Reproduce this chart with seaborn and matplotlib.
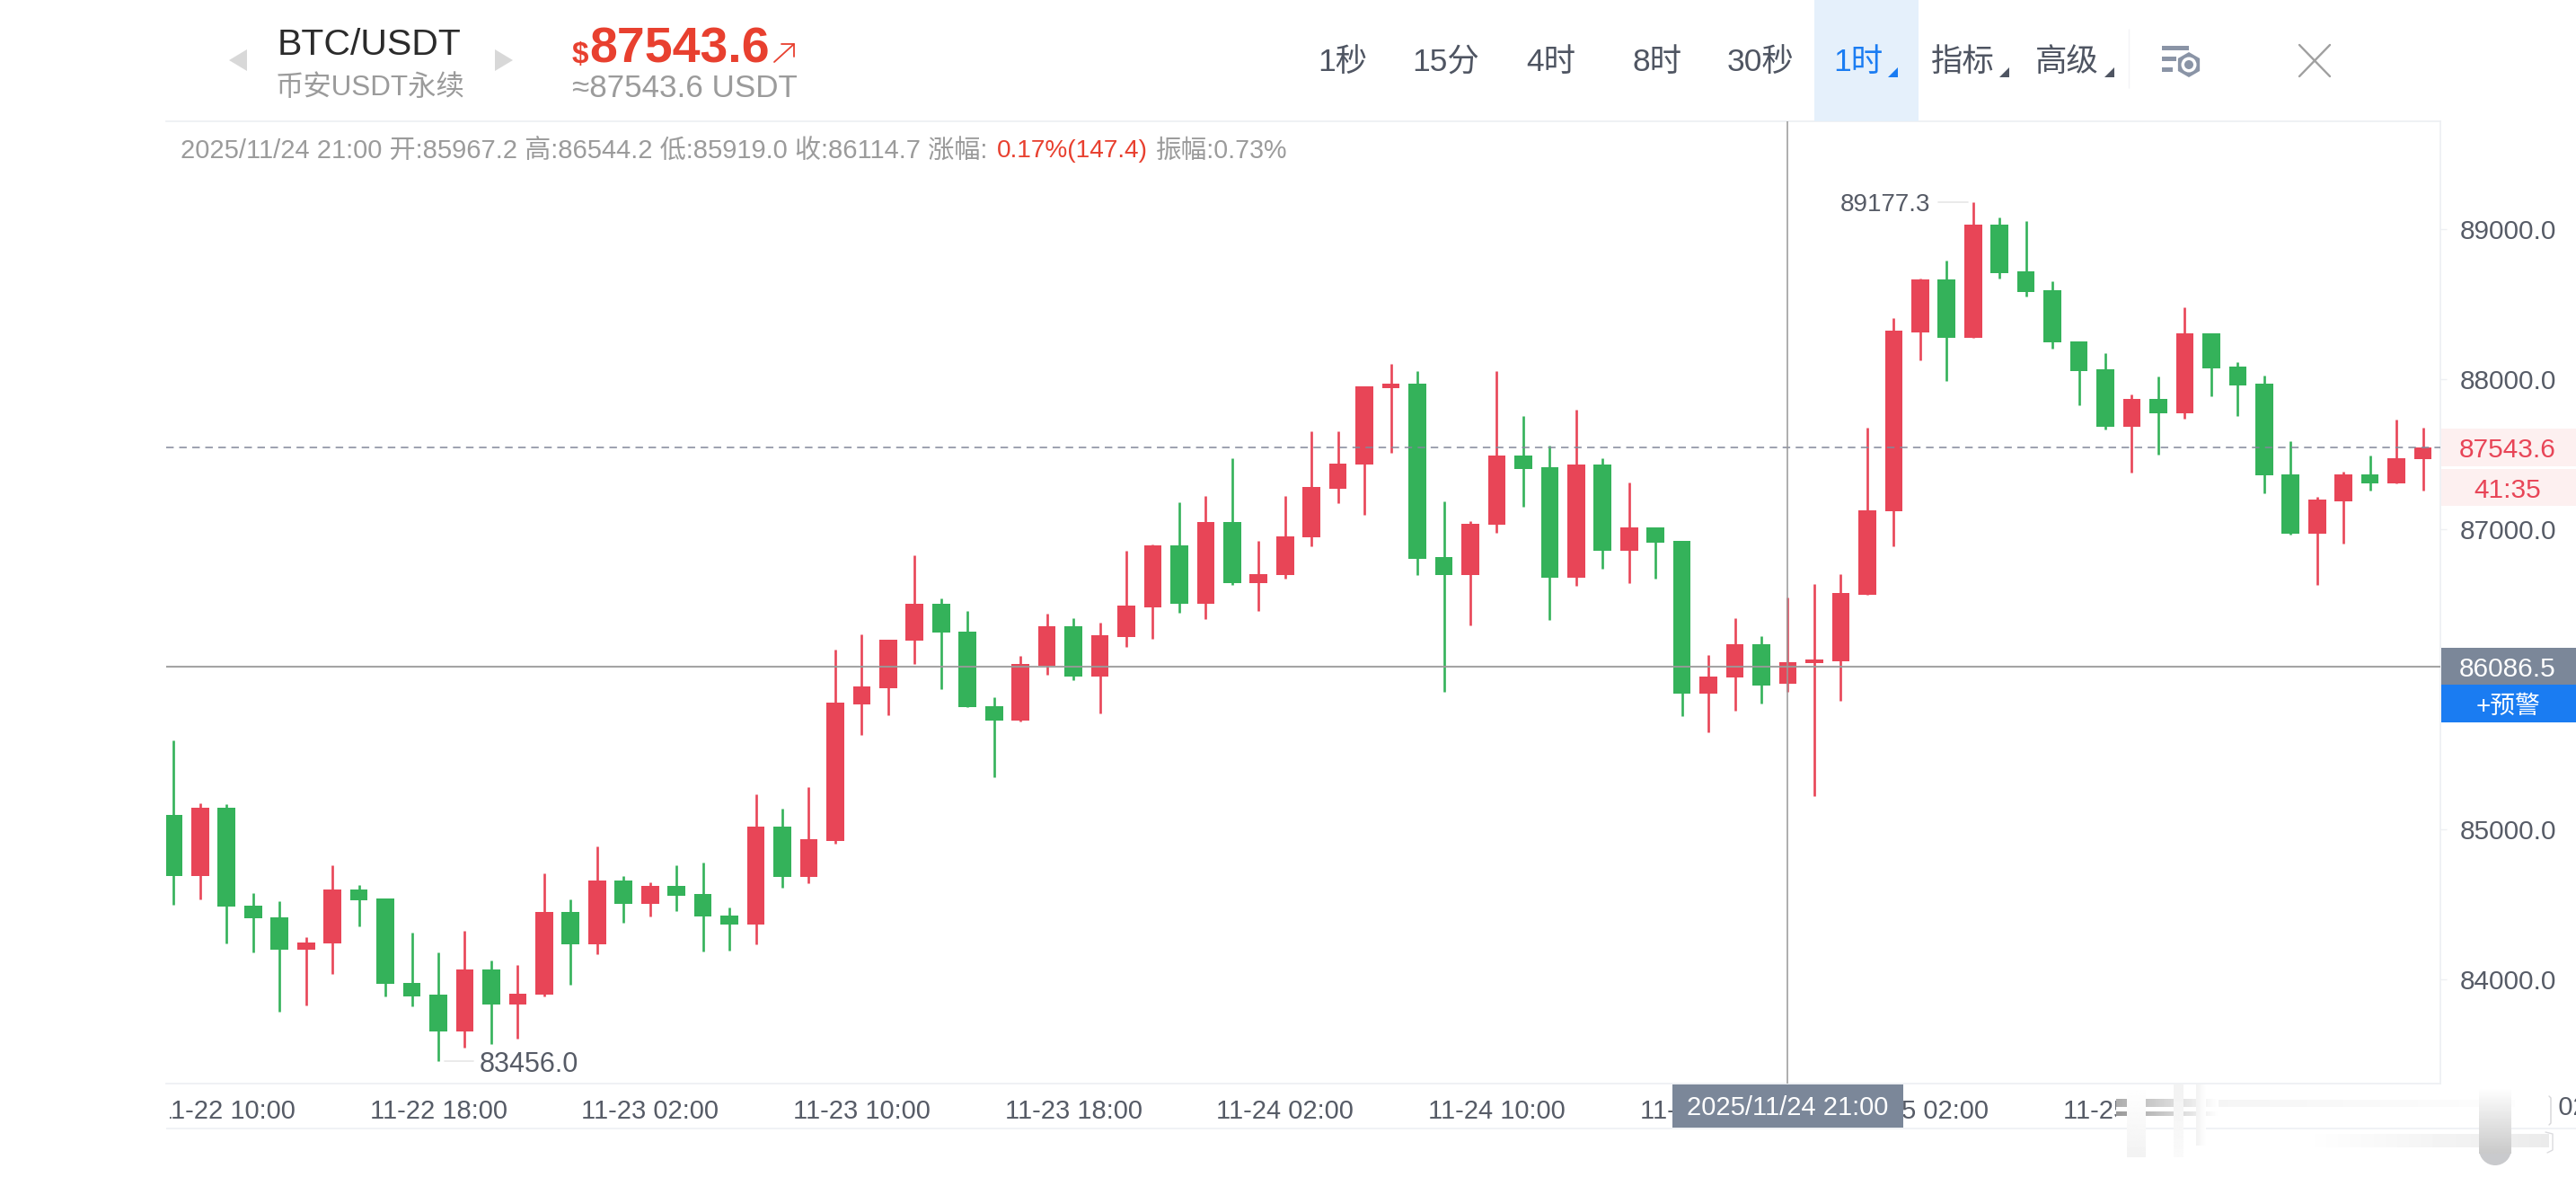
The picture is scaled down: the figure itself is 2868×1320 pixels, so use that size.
import numpy as np
import pandas as pd
import seaborn as sns
import matplotlib.pyplot as plt
from matplotlib.patches import Rectangle, Polygon, RegularPolygon, Circle

# 1h candles. red = close above open, green = close below
OPEN = [85094, 84686, 85143, 84490, 84414, 84197, 84241, 84598, 84536, 83977,
        83896, 83654, 84065, 83835, 83896, 84451, 84231, 84659, 84505, 84624,
        84566, 84426, 84363, 85020, 84683, 84920, 85830, 85942, 86255, 86501,
        86317, 85822, 85725, 86092, 86351, 86018, 86283, 86479, 86892, 86505,
        87048, 86643, 86695, 86946, 87271, 87431, 87940, 87970, 86812, 86697,
        87028, 87489, 87413, 86677, 87431, 86856, 87010, 86922, 85906, 86010,
        86236, 85967.2, 86108, 86120, 86565, 87118, 88311, 88667, 88273, 89028,
        88720, 88591, 88253, 88064, 87681, 87870, 87770, 88305, 88084, 87970,
        87367, 86972, 87188, 87363, 87307, 87465]
HIGH = [85595, 85174, 85167, 84573, 84519, 84282, 84759, 84629, 84541, 84309,
        84182, 84321, 84126, 84094, 84708, 84532, 84884, 84686, 84644, 84759,
        84776, 84478, 85231, 85135, 85283, 86198, 86297, 86263, 86824, 86537,
        86455, 85878, 86156, 86435, 86405, 86377, 86854, 86898, 87178, 87220,
        87471, 86920, 87220, 87653, 87653, 87950, 88102, 88052, 87188, 87052,
        88052, 87756, 87555, 87796, 87475, 87309, 87010, 86922, 86162, 86405,
        86285, 86544.2, 86633, 86699, 87679, 88405, 88671, 88790, 89177.3, 89078,
        89056, 88651, 88253, 88172, 87900, 88016, 88477, 88305, 88112, 88022,
        87587, 87218, 87383, 87489, 87733, 87677]
LOW = [84500, 84534, 84241, 84177, 83786, 83828, 84036, 84351, 83889, 83818,
       83456, 83547, 83571, 83603, 83889, 83965, 84170, 84380, 84422, 84458,
       84187, 84189, 84231, 84612, 84640, 84906, 85627, 85763, 86104, 85932,
       85812, 85345, 85720, 86032, 85996, 85774, 86218, 86269, 86443, 86403,
       86631, 86457, 86673, 86886, 87176, 87098, 87511, 86697, 85914, 86361,
       86978, 87152, 86397, 86625, 86735, 86643, 86673, 85756, 85649, 85792,
       85836, 85919.0, 85224, 85858, 86565, 86888, 88128, 87988, 88273, 88673,
       88551, 88206, 87826, 87667, 87379, 87499, 87738, 87884, 87756, 87242,
       86962, 86627, 86902, 87258, 87307, 87258]
CLOSE = [84686, 85143, 84485, 84407, 84197, 84248, 84598, 84529, 83969, 83889,
         83654, 84065, 83835, 83906, 84451, 84231, 84659, 84505, 84624, 84556,
         84419, 84363, 85020, 84681, 84934, 85842, 85950, 86263, 86501, 86309,
         85812, 85725, 86102, 86351, 86018, 86293, 86489, 86892, 86505, 87048,
         86643, 86703, 86954, 87279, 87439, 87950, 87970, 86802, 86697, 87038,
         87489, 87403, 86677, 87431, 86856, 87010, 86910, 85906, 86020, 86236,
         85960, 86114.7, 86130, 86575, 87128, 88321, 88667, 88273, 89028, 88709,
         88581, 88244, 88054, 87681, 87870, 87770, 88305, 88074, 87958, 87357,
         86972, 87200, 87363, 87307, 87475, 87543.6]

X_TICK_IDX = [2, 10, 18, 26, 34, 42, 50, 58, 66, 74, 82]
X_TICK_LABELS = ['11-22 10:00', '11-22 18:00', '11-23 02:00', '11-23 10:00',
                 '11-23 18:00', '11-24 02:00', '11-24 10:00', '11-24 18:00',
                 '11-25 02:00', '11-25 10:00', '11-25 18:00']
Y_TICKS = [84000, 85000, 86000, 87000, 88000, 89000]
Y_TICK_LABELS = ['84000.0', '85000.0', '', '87000.0', '88000.0', '89000.0']

LAST_PRICE = 87543.6
CURSOR_PRICE = 86086.5
CURSOR_IDX = 61
MAX_PRICE = 89177.3
MIN_PRICE = 83456.0

RED = '#e84557'
GREEN = '#34b25a'
GRAY_TXT = '#9b9b9b'
DARK_TXT = '#565b66'
TAG_GRAY = '#7b8799'
BLUE = '#1a7cf2'
LINE = '#eef0f3'

sns.set_theme(style='white')
plt.rcParams['font.family'] = ['Liberation Sans', 'Noto Sans CJK SC', 'DejaVu Sans']

W, H = 2868, 1320
fig = plt.figure(figsize=(W / 100, H / 100), dpi=100, facecolor='white')

# main chart, placed by pixel edges of the plot area
left, right, top, bottom = 185, 2717, 135, 1206
ax = fig.add_axes([left / W, 1 - bottom / H, (right - left) / W, (bottom - top) / H])

df = pd.DataFrame({'idx': range(len(OPEN)), 'open': OPEN, 'high': HIGH, 'low': LOW, 'close': CLOSE})
df['dir'] = np.where(df['close'] >= df['open'], 'up', 'down')
df['body'] = (df['close'] - df['open']).abs()
df['body_low'] = df[['open', 'close']].min(axis=1)

# wicks
wicks = df.melt(id_vars=['idx', 'dir'], value_vars=['high', 'low'], value_name='price')
wicks = wicks.sort_values(['idx', 'variable'])
sns.lineplot(data=wicks, x='idx', y='price', units='idx', estimator=None, hue='dir',
             palette={'up': RED, 'down': GREEN}, linewidth=1.9, legend=False, sort=False,
             solid_capstyle='butt', zorder=2, ax=ax)

# bodies
for name, colour in [('up', RED), ('down', GREEN)]:
    sub = df[df['dir'] == name]
    sns.barplot(data=sub, x='idx', y='body', bottom=sub['body_low'].values, color=colour,
                saturation=1, width=0.667, native_scale=True, errorbar=None,
                linewidth=0, zorder=3, ax=ax)

ax.set_xlim(-0.285, 85.66)
ax.set_ylim(83305.4, 89718.6)
ax.set_xlabel('')
ax.set_ylabel('')

ax.axhline(LAST_PRICE, color='#82889a', lw=1.1, dashes=(5.5, 4), zorder=4)
ax.axhline(CURSOR_PRICE, color='#9a9a9a', lw=1.5, alpha=0.9, zorder=4)
ax.axvline(CURSOR_IDX, color='#9a9a9a', lw=1.4, alpha=0.8, zorder=4)

# high / low markers
hi = int(np.argmax(HIGH))
lo = int(np.argmin(LOW))
ax.plot([hi - 1.32, hi - 0.2], [MAX_PRICE, MAX_PRICE], color='#e6e6e6', lw=1.2, zorder=1)
ax.plot([lo + 0.25, lo + 1.32], [MIN_PRICE, MIN_PRICE], color='#e6e6e6', lw=1.2, zorder=1)
ax.annotate(f'{MAX_PRICE:.1f}', (hi - 1.6, MAX_PRICE), xytext=(0, -3), textcoords='offset pixels',
            ha='right', va='center', fontsize=20, color=DARK_TXT)
ax.annotate(f'{MIN_PRICE:.1f}', (lo + 1.55, MIN_PRICE), xytext=(0, -4), textcoords='offset pixels',
            ha='left', va='center', fontsize=22, color=DARK_TXT)

ax.set_xticks(X_TICK_IDX, X_TICK_LABELS)
ax.set_yticks(Y_TICKS, Y_TICK_LABELS)
ax.yaxis.tick_right()
ax.tick_params(axis='x', length=0, pad=12, labelsize=21, labelcolor=DARK_TXT)
ax.tick_params(axis='y', length=5, width=1, color=LINE, pad=49, labelsize=21.5, labelcolor=DARK_TXT)
for lbl in ax.get_yticklabels():
    lbl.set_ha('center')
ax.text(90, -0.0255, '11-26 02:00', transform=ax.get_xaxis_transform(), ha='center', va='center',
        fontsize=21, color=DARK_TXT, clip_on=False)
ax.spines['left'].set_visible(False)
for side in ['top', 'right', 'bottom']:
    ax.spines[side].set_color(LINE)
    ax.spines[side].set_linewidth(1.3)

# everything around the chart, in image pixels
ui = fig.add_axes([0, 0, 1, 1], zorder=5)
ui.patch.set_alpha(0)
ui.axis('off')


def rect(x0, y0, x1, y1, colour, **kw):
    ui.add_patch(Rectangle((x0, y0), x1 - x0, y1 - y0, fc=colour, ec='none', **kw))


def label(x, y, s, size, colour, ha='center', **kw):
    ui.text(x, y, s, fontsize=size, color=colour, ha=ha, va='center', **kw)


def fade(x0, y0, x1, y1, v0, v1, horizontal=True):
    g = np.linspace(v0, v1, 64)
    g = g[None, :] if horizontal else g[:, None]
    ui.imshow(g, extent=(x0, x1, y1, y0), cmap='gray', vmin=0, vmax=1, aspect='auto', zorder=2)


ui.hlines(1256, 185, 2868, color=LINE, lw=1.2)
rect(0, 1207, 189, 1255, 'white')

# header
label(309, 50, 'BTC/USDT', 29.5, '#2b2b2b', ha='left')
label(307, 98, '币安USDT永续', 22.6, GRAY_TXT, ha='left')
ui.add_patch(Polygon([(255, 67), (275, 55), (275, 79)], fc='#d8d8d8', ec='none'))
ui.add_patch(Polygon([(571, 67), (551, 55), (551, 79)], fc='#d8d8d8', ec='none'))
ui.text(637, 70, '$', fontsize=24, color='#e8402f', fontweight='bold', ha='left', va='baseline')
ui.text(656, 69, '87543.6', fontsize=40, color='#e8402f', fontweight='bold', ha='left', va='baseline')
ui.plot([862, 884], [69, 49], color='#e8402f', lw=1.3)
ui.plot([870, 884, 884], [49, 49, 63], color='#e8402f', lw=1.3)
label(637, 99, '≈87543.6 USDT', 25.2, GRAY_TXT, ha='left')

# info line of the hovered candle
label(201, 168, '2025/11/24 21:00 开:85967.2 高:86544.2 低:85919.0 收:86114.7 涨幅:', 21, GRAY_TXT, ha='left')
label(1110, 168, '0.17%(147.4)', 20.2, '#e8402f', ha='left')
label(1287, 168, '振幅:0.73%', 20.6, GRAY_TXT, ha='left')

# toolbar
rect(2020, 0, 2136, 135, '#e5f0fb')
for x, s in [(1495, '1秒'), (1610, '15分'), (1727, '4时'), (1845, '8时'), (1960, '30秒'),
             (2185, '指标'), (2301, '高级')]:
    label(x, 69, s, 25.5, '#4f5562')
label(2069, 69, '1时', 25.5, BLUE)
for x, colour in [(2113, BLUE), (2237, '#4f5562'), (2354, '#4f5562')]:
    ui.add_patch(Polygon([(x, 75), (x, 86), (x - 11, 86)], fc=colour, ec='none'))
ui.vlines(2370, 32, 98, color='#f3f4f6', lw=1)
for x1, y in [(2437, 53.5), (2423, 65.5), (2419, 77.5)]:
    rect(2407, y - 2.7, x1, y + 2.7, '#8a94a6')
ui.add_patch(RegularPolygon((2437, 72), 6, radius=14, fc='#8a94a6', ec='none'))
ui.add_patch(Circle((2437, 72), 8.5, fc='white', ec='none'))
ui.add_patch(Circle((2437, 72), 5, fc='#8a94a6', ec='none'))
ui.plot([2560, 2594], [50, 85], color='#a0a0a0', lw=1.7)
ui.plot([2560, 2594], [85, 50], color='#a0a0a0', lw=1.7)

# price tags on the right
rect(2718, 477, 2868, 519, '#fdf0f0')
rect(2718, 522, 2868, 563, '#fdf0f0')
label(2792, 501, '87543.6', 21.5, RED)
label(2792, 546, '41:35', 21.5, RED)
rect(2718, 721, 2868, 762, TAG_GRAY)
rect(2718, 762, 2868, 804, BLUE)
label(2792, 745, '86086.5', 21.5, 'white')
label(2792, 787, '+预警', 20, 'white')

# time tag of the cursor
rect(1862, 1207, 2119, 1255, TAG_GRAY)
label(1990, 1233, '2025/11/24 21:00', 21, 'white')

# blurred watermark over the time axis
rect(2356, 1207, 2840, 1253, 'white')
fade(2356, 1223, 2470, 1232, 0.68, 1.0)
fade(2356, 1237, 2470, 1242, 0.6, 1.0)
fade(2470, 1224, 2800, 1232, 0.96, 0.99)
fade(2368, 1207, 2389, 1288, 1.0, 0.95, horizontal=False)
fade(2420, 1207, 2431, 1288, 0.95, 0.98, horizontal=False)
fade(2445, 1207, 2456, 1275, 0.95, 1.0)
fade(2560, 1262, 2838, 1277, 1.0, 0.92)
fade(2760, 1210, 2796, 1284, 1.0, 0.79, horizontal=False)
ui.add_patch(Circle((2778, 1279), 18, fc='#c9cacd', ec='none', zorder=1))
ui.plot([2838, 2840, 2840, 2838], [1220, 1222, 1250, 1252], color='#d5d5d8', lw=1, zorder=3)
ui.plot([2834, 2842, 2842, 2836], [1260, 1262, 1280, 1283], color='#dcdcdf', lw=1, zorder=3)

ui.set_xlim(0, W)
ui.set_ylim(H, 0)

plt.savefig('out.png', dpi=100)
